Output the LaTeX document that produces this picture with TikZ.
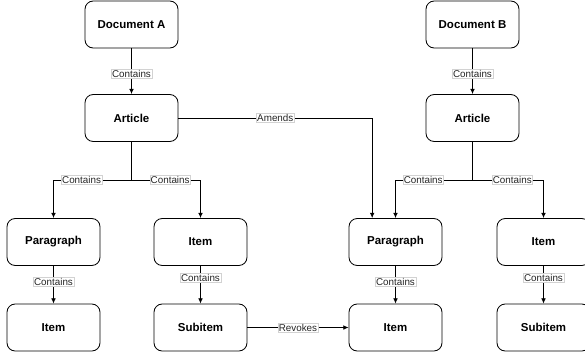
\documentclass[tikz,border=0pt]{standalone}
\usepackage{fontspec}
\setmainfont{Liberation Sans}
\usetikzlibrary{arrows.meta,calc,positioning}
\tikzset{%
	unit/.style  = {draw, rectangle, rounded corners=7pt, minimum width=2.79cm, minimum height=1.41cm, text centered, font=\bfseries\fontsize{9.8}{11}\selectfont, line width=0.7pt},
	rel/.style   = {fill=white, draw=gray!35, line width=0.3pt, inner sep=0.8pt, font=\fontsize{8.4}{9}\selectfont, text=black!85},
	arrow/.style = {line width=0.7pt,-{Latex[length=4.5pt,width=4pt]}},
}
\begin{document}
\begin{tikzpicture}[x=0.03cm,y=-0.03cm]
	\useasboundingbox (0,0) rectangle (585,353);
	
	% Document A
	\node[unit] (docA) at (131.5,24.5) {Document A};
	\node[unit] (artA) at (131.5,118) {Article};
	\node[unit] (parA) at (53.5,242) {Paragraph};
	\node[unit] (itmA) at (200.5,242) {Item};
	\node[unit] (itmAA) at (53.5,327.5) {Item};
	\node[unit] (subA) at (200.5,327.5) {Subitem};
	\coordinate (splitA) at (131.5,180);
	
	% Document B
	\node[unit] (docB) at (472.5,24.5) {Document B};
	\node[unit] (artB) at (472.5,118) {Article};
	\node[unit] (parB) at (395.5,242) {Paragraph};
	\node[unit] (itmB) at (543.5,242) {Item};
	\node[unit] (itmBB) at (395.5,327.5) {Item};
	\node[unit] (subB) at (543.5,327.5) {Subitem};
	\coordinate (splitB) at (472.5,180);
	
	\draw[arrow] (docA) -- node[rel,pos=0.55] {Contains} (artA);
	\draw[arrow] (artA) -- (splitA) -| node[rel,pos=0.32] {Contains} (parA);
	\draw[arrow] (splitA) -| node[rel,pos=0.28] {Contains} (itmA);
	\draw[arrow] (parA) -- node[rel,pos=0.42] {Contains} (itmAA);
	\draw[arrow] (itmA) -- node[rel,pos=0.32] {Contains} (subA);
	
	\draw[arrow] (docB) -- node[rel,pos=0.55] {Contains} (artB);
	\draw[arrow] (artB) -- (splitB) -| node[rel,pos=0.32] {Contains} (parB);
	\draw[arrow] (splitB) -| node[rel,pos=0.28] {Contains} (itmB);
	\draw[arrow] (parB) -- node[rel,pos=0.42] {Contains} (itmBB);
	\draw[arrow] (itmB) -- node[rel,pos=0.32] {Contains} (subB);
	
	% between the two documents
	\draw[arrow] (artA) -| node[rel,pos=0.25] {Amends} ([xshift=-0.7cm]parB.north);
	\draw[arrow] (subA) -- node[rel] {Revokes} (itmBB);
\end{tikzpicture}
\end{document}
